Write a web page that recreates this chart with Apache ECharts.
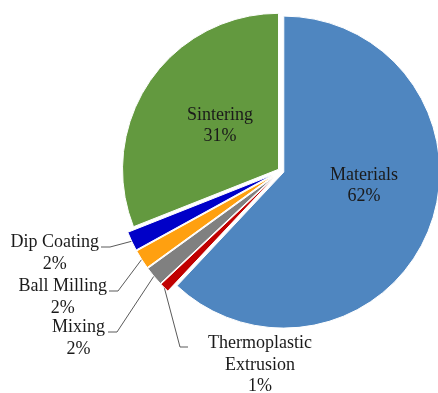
<!DOCTYPE html>
<html>
<head>
<meta charset="utf-8">
<script src="https://cdn.jsdelivr.net/npm/echarts@6/dist/echarts.min.js"></script>
<style>
  html, body { margin: 0; padding: 0; background: #ffffff; }
  #chart { width: 438px; height: 393px; }
</style>
</head>
<body>
<div id="chart"></div>
<script>
// Cost breakdown by process step (percent of total), clockwise from 12 o'clock
const categories = ['Materials', 'Thermoplastic Extrusion', 'Mixing', 'Ball Milling', 'Dip Coating', 'Sintering'];
const shares = [62, 1, 2, 2, 2, 31];
const sliceColors = ['#4f86c0', '#c00000', '#808080', '#ffa010', '#0000c8', '#63993f'];
// Steps drawn further pulled out of the pie, with outside callout labels
const minorSteps = ['Thermoplastic Extrusion', 'Mixing', 'Ball Milling', 'Dip Coating'];
// How each step name is broken into lines
const labelLines = {
  'Materials': ['Materials'],
  'Thermoplastic Extrusion': ['Thermoplastic', 'Extrusion'],
  'Mixing': ['Mixing'],
  'Ball Milling': ['Ball Milling'],
  'Dip Coating': ['Dip Coating'],
  'Sintering': ['Sintering']
};

// Label placement and callout routing
const labelSpots = {
  'Materials': { x: 364, y: 186, align: 'center', verticalAlign: 'middle' },
  'Sintering': { x: 220, y: 126, align: 'center', verticalAlign: 'middle' },
  'Dip Coating': { x: 99, y: 232, align: 'right', verticalAlign: 'top', lead: [[110, 247], [101, 247]] },
  'Ball Milling': { x: 107, y: 276, align: 'right', verticalAlign: 'top', lead: [[118, 291], [109, 291]] },
  'Mixing': { x: 105, y: 317, align: 'right', verticalAlign: 'top', lead: [[117, 332], [108, 332]] },
  'Thermoplastic Extrusion': { x: 260, y: 333, align: 'center', verticalAlign: 'top', lead: [[180, 347], [188, 347]] }
};

const PIE_CENTER = [281, 171];
const PIE_RADIUS = 156;
const MAJOR_PULL = 3;
const MINOR_PULL = 9;

const textColor = '#1a1a1a';
const fontFamily = 'Liberation Serif';
const fontSize = 18;
const lineHeight = 21.5;

function labelText(p) {
  const lines = labelLines[p.name].concat([p.value + '%']);
  return lines.map(function (l) { return '{c|' + l + '}'; }).join('\n');
}

// Slice layer: only one group of steps is painted, each pulled out of the pie
function sliceData(showMinor) {
  return categories.map(function (name, i) {
    const isMinor = minorSteps.indexOf(name) >= 0;
    const visible = isMinor === showMinor;
    return {
      name: name,
      value: shares[i],
      selected: true,
      itemStyle: { color: visible ? sliceColors[i] : 'rgba(0,0,0,0)', borderWidth: visible ? 1 : 0 }
    };
  });
}

// Label layer: invisible sectors that carry every label and callout line
function labelData() {
  return categories.map(function (name, i) {
    const isMinor = minorSteps.indexOf(name) >= 0;
    return {
      name: name,
      value: shares[i],
      label: { position: isMinor ? 'outside' : 'inside' },
      labelLine: { show: isMinor }
    };
  });
}

function placeLabel(params) {
  const spot = labelSpots[categories[params.dataIndex]];
  if (!spot) return {};
  const out = { x: spot.x, y: spot.y, align: spot.align, verticalAlign: spot.verticalAlign };
  if (spot.lead && params.labelLinePoints) {
    out.labelLinePoints = [params.labelLinePoints[0], spot.lead[0], spot.lead[1]];
  }
  return out;
}

const pieBase = {
  type: 'pie',
  center: PIE_CENTER,
  startAngle: 90,
  clockwise: true,
  avoidLabelOverlap: false,
  minShowLabelAngle: 0,
  animation: false,
  silent: true,
  emphasis: { disabled: true }
};

const chart = echarts.init(document.getElementById('chart'), null, { renderer: 'canvas' });
chart.setOption({
  backgroundColor: '#ffffff',
  textStyle: { fontFamily: fontFamily },
  series: [
    Object.assign({}, pieBase, {
      name: 'major',
      radius: PIE_RADIUS,
      selectedMode: 'multiple',
      selectedOffset: MAJOR_PULL,
      itemStyle: { borderColor: '#ffffff', borderWidth: 1 },
      label: { show: false },
      labelLine: { show: false },
      data: sliceData(false)
    }),
    Object.assign({}, pieBase, {
      name: 'minor',
      radius: PIE_RADIUS,
      selectedMode: 'multiple',
      selectedOffset: MINOR_PULL,
      itemStyle: { borderColor: '#ffffff', borderWidth: 1 },
      label: { show: false },
      labelLine: { show: false },
      data: sliceData(true)
    }),
    Object.assign({}, pieBase, {
      name: 'labels',
      radius: PIE_RADIUS + MINOR_PULL,
      itemStyle: { color: 'rgba(0,0,0,0)', borderWidth: 0 },
      labelLayout: placeLabel,
      label: {
        show: true,
        formatter: labelText,
        color: textColor,
        fontFamily: fontFamily,
        fontSize: fontSize,
        lineHeight: lineHeight,
        rich: {
          c: { align: 'center', color: textColor, fontFamily: fontFamily, fontSize: fontSize, lineHeight: lineHeight }
        }
      },
      labelLine: {
        show: true,
        smooth: false,
        lineStyle: { color: '#5a5a5a', width: 1 }
      },
      data: labelData()
    })
  ]
});
</script>
</body>
</html>
